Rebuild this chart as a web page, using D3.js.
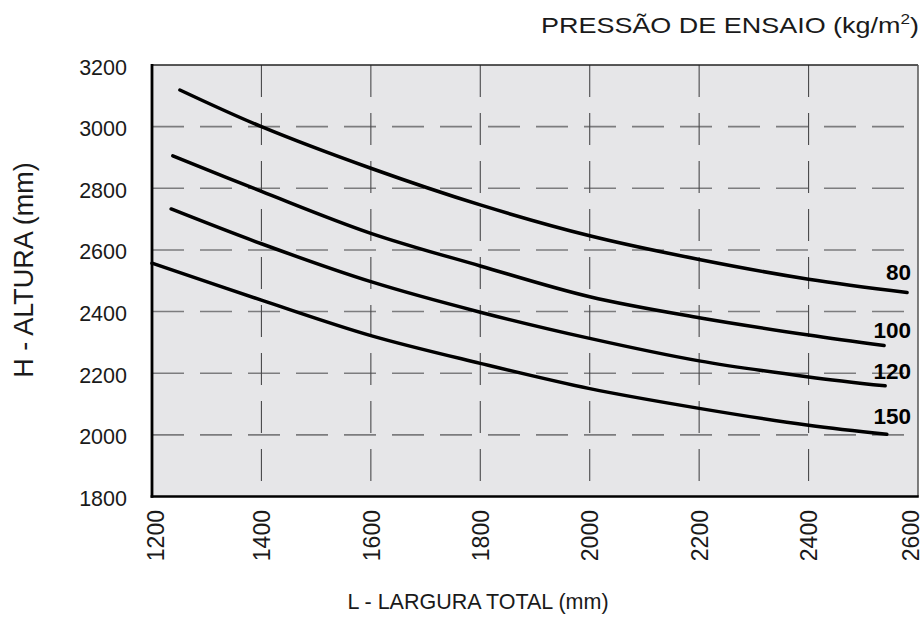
<!DOCTYPE html>
<html>
<head>
<meta charset="utf-8">
<script src="https://cdn.jsdelivr.net/npm/d3@7/dist/d3.min.js"></script>
<style>
  html, body { margin: 0; padding: 0; background: #ffffff; }
  svg { display: block; font-family: "Liberation Sans", Arial, sans-serif; }
</style>
</head>
<body>
<svg id="chart" width="924" height="630"></svg>
<script>
// Curve labels: test pressure in kg/m²
const seriesNames = ["80", "100", "120", "150"];

// Width L (mm) sampled along each curve
const widths80  = [1251, 1400, 1600, 1800, 2000, 2200, 2400, 2580];
const widths100 = [1238, 1400, 1600, 1800, 2000, 2200, 2400, 2538];
const widths120 = [1235, 1400, 1600, 1800, 2000, 2200, 2400, 2540];
const widths150 = [1200, 1400, 1600, 1800, 2000, 2200, 2400, 2543];

// Maximum height H (mm) at each sampled width
const heights80  = [3119, 3000, 2865, 2746, 2646, 2569, 2505, 2462];
const heights100 = [2905, 2790, 2654, 2548, 2448, 2380, 2324, 2290];
const heights120 = [2733, 2620, 2497, 2398, 2313, 2240, 2188, 2159];
const heights150 = [2557, 2437, 2322, 2232, 2150, 2086, 2031, 2002];

// Axis ticks
const xTickValues = [1200, 1400, 1600, 1800, 2000, 2200, 2400, 2600];
const yTickValues = [1800, 2000, 2200, 2400, 2600, 2800, 3000, 3200];

const widthSets = [widths80, widths100, widths120, widths150];
const heightSets = [heights80, heights100, heights120, heights150];
const series = seriesNames.map((name, i) => ({
  name,
  points: widthSets[i].map((w, j) => [w, heightSets[i][j]])
}));

const svg = d3.select("#chart");
const plot = { left: 152, right: 918, top: 65, bottom: 496.5 };

const x = d3.scaleLinear().domain([1200, 2600]).range([plot.left, plot.right]);
const y = d3.scaleLinear().domain([1800, 3200]).range([plot.bottom, plot.top]);

// Plot background
svg.append("rect")
  .attr("x", plot.left).attr("y", plot.top)
  .attr("width", plot.right - plot.left).attr("height", plot.bottom - plot.top)
  .attr("fill", "#e6e6e8");

// Dashed grid
const grid = svg.append("g");
grid.selectAll("line.h")
  .data(yTickValues.filter(v => v > 1800 && v < 3200))
  .join("line")
  .attr("class", "h")
  .attr("x1", plot.left).attr("x2", plot.right)
  .attr("y1", d => y(d)).attr("y2", d => y(d))
  .attr("stroke", "#7c7c7e").attr("stroke-width", 1.6)
  .attr("stroke-dasharray", "32,16");
grid.selectAll("line.v")
  .data(xTickValues.filter(v => v > 1200 && v < 2600))
  .join("line")
  .attr("class", "v")
  .attr("x1", d => x(d)).attr("x2", d => x(d))
  .attr("y1", plot.top).attr("y2", plot.bottom)
  .attr("stroke", "#4a4a4c").attr("stroke-width", 1.1)
  .attr("stroke-dasharray", "32,16");

// Frame
svg.append("line")
  .attr("x1", plot.left).attr("x2", plot.right)
  .attr("y1", plot.top).attr("y2", plot.top)
  .attr("stroke", "#222").attr("stroke-width", 1.5);
svg.append("line")
  .attr("x1", plot.right).attr("x2", plot.right)
  .attr("y1", plot.top).attr("y2", plot.bottom)
  .attr("stroke", "#555").attr("stroke-width", 1.5);

// Axes (labels only, frame lines drawn separately)
const yAxis = d3.axisLeft(y).tickValues(yTickValues).tickSize(0).tickPadding(0)
  .tickFormat(d3.format("d"));
const gy = svg.append("g").attr("transform", `translate(${plot.left - 25},0)`).call(yAxis);
gy.select(".domain").remove();
gy.attr("font-family", null);
gy.selectAll("text")
  .attr("font-size", 21.5)
  .attr("fill", "#1a1a1a")
  .attr("dy", "0.42em");

const xAxis = d3.axisBottom(x).tickValues(xTickValues).tickSize(0).tickPadding(0)
  .tickFormat(d3.format("d"));
const gx = svg.append("g").attr("transform", `translate(0,${plot.bottom + 13.5})`).call(xAxis);
gx.select(".domain").remove();
gx.attr("font-family", null);
// the end labels sit against the page edges, so nudge them inward a little
gx.selectAll("text")
  .attr("font-size", 23)
  .attr("fill", "#1a1a1a")
  .attr("transform", "rotate(-90)")
  .attr("text-anchor", "end")
  .attr("x", 0)
  .attr("y", d => (d === 2600 ? -8 : d === 1200 ? 3 : 0))
  .attr("dy", "0.36em");

svg.append("line")
  .attr("x1", plot.left).attr("x2", plot.left)
  .attr("y1", plot.top - 1).attr("y2", plot.bottom + 1.2)
  .attr("stroke", "#000").attr("stroke-width", 2.8);
svg.append("line")
  .attr("x1", plot.left - 1.4).attr("x2", plot.right + 0.75)
  .attr("y1", plot.bottom).attr("y2", plot.bottom)
  .attr("stroke", "#000").attr("stroke-width", 2.6);

// Pressure curves
const line = d3.line()
  .x(d => x(d[0])).y(d => y(d[1]))
  .curve(d3.curveCatmullRom.alpha(0.5));
svg.append("g").selectAll("path")
  .data(series)
  .join("path")
  .attr("d", d => line(d.points))
  .attr("fill", "none")
  .attr("stroke", "#000")
  .attr("stroke-width", 3.5)
  .attr("stroke-linecap", "round");

// Curve labels
const labelBaseline = { "80": 279.5, "100": 338, "120": 378.5, "150": 423.5 };
svg.append("g").selectAll("text")
  .data(series)
  .join("text")
  .attr("x", 911)
  .attr("y", d => labelBaseline[d.name])
  .attr("text-anchor", "end")
  .attr("font-size", 22.5)
  .attr("font-weight", "bold")
  .attr("fill", "#000")
  .text(d => d.name);

// Titles
const topTitle = svg.append("text")
  .attr("x", 541).attr("y", 32.5)
  .attr("font-size", 22)
  .attr("fill", "#1a1a1a")
  .attr("textLength", 378)
  .attr("lengthAdjust", "spacingAndGlyphs");
topTitle.append("tspan").text("PRESSÃO DE ENSAIO (kg/m");
topTitle.append("tspan").attr("font-size", 14).attr("dy", -9).text("2");
topTitle.append("tspan").attr("dy", 9).text(")");

svg.append("text")
  .attr("transform", "translate(32.5,270) rotate(-90)")
  .attr("text-anchor", "middle")
  .attr("font-size", 27)
  .attr("fill", "#1a1a1a")
  .text("H - ALTURA (mm)");

svg.append("text")
  .attr("x", 478).attr("y", 609)
  .attr("text-anchor", "middle")
  .attr("font-size", 21.5)
  .attr("fill", "#1a1a1a")
  .text("L - LARGURA TOTAL (mm)");
</script>
</body>
</html>
